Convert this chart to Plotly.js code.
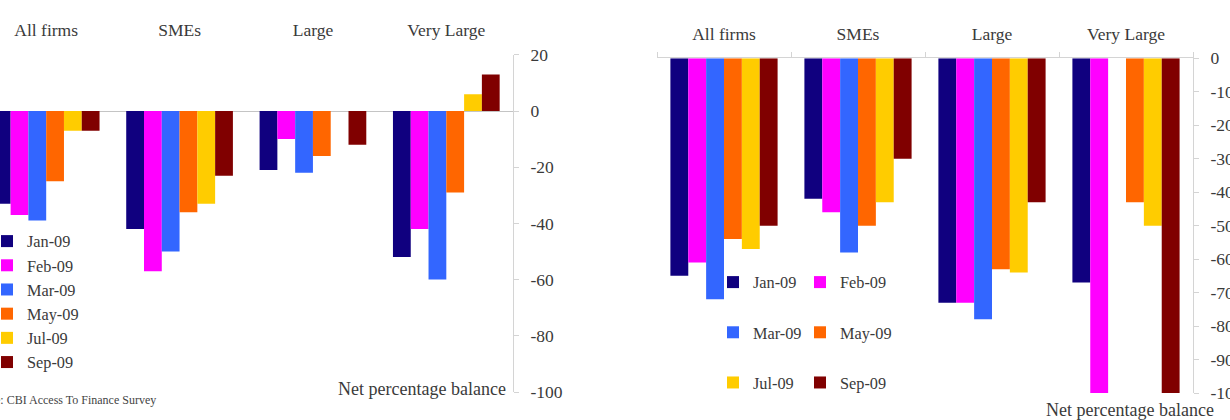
<!DOCTYPE html>
<html>
<head>
<meta charset="utf-8">
<script src="https://cdn.plot.ly/plotly-3.0.1.min.js"></script>
<style>
  html, body { margin: 0; padding: 0; background: #ffffff; }
  #chart { width: 1230px; height: 420px; }
</style>
</head>
<body>
<div id="chart"></div>
<script>
// Firm-size groups shown along the top of both panels
const categories = ['All firms', 'SMEs', 'Large', 'Very Large'];
// Survey waves
const months = ['Jan-09', 'Feb-09', 'Mar-09', 'May-09', 'Jul-09', 'Sep-09'];

// Left panel: net percentage balance by wave (All firms, SMEs, Large, Very Large)
const leftJan = [-33, -42, -21, -52];
const leftFeb = [-37, -57, -10, -42];
const leftMar = [-39, -50, -22, -60];
const leftMay = [-25, -36, -16, -29];
const leftJul = [-7, -33, 0, 6];
const leftSep = [-7, -23, -12, 13];

// Right panel: net percentage balance by wave (All firms, SMEs, Large, Very Large)
const rightJan = [-65, -42, -73, -67];
const rightFeb = [-61, -46, -73, -100];
const rightMar = [-72, -58, -78, null];
const rightMay = [-54, -50, -63, -43];
const rightJul = [-57, -43, -64, -50];
const rightSep = [-50, -30, -43, -100];

// Value-axis tick labels (plain hyphen minus)
const leftTicks = [20, 0, -20, -40, -60, -80, -100];
const leftTickText = ['20', '0', '-20', '-40', '-60', '-80', '-100'];
const rightTicks = [0, -10, -20, -30, -40, -50, -60, -70, -80, -90, -100];
const rightTickText = ['0', '-10', '-20', '-30', '-40', '-50', '-60', '-70', '-80', '-90', '-100'];

const colors = ['#10007f', '#ff00ff', '#3366ff', '#ff6600', '#ffcc00', '#800000'];

const leftSeries = [leftJan, leftFeb, leftMar, leftMay, leftJul, leftSep];
const rightSeries = [rightJan, rightFeb, rightMar, rightMay, rightJul, rightSep];

const W = 1230, H = 420;
const px = v => v / W;          // horizontal pixel -> paper
const py = v => 1 - v / H;      // vertical pixel -> paper

const serif = '"Liberation Serif", "Times New Roman", Times, serif';
const textColor = '#3a3a3a';
const axisGrey = '#d4d4d4';

const traces = [];
months.forEach((m, i) => {
  traces.push({
    type: 'bar', name: m, x: categories, y: leftSeries[i],
    xaxis: 'x', yaxis: 'y',
    marker: { color: colors[i], line: { width: 0 } },
    legend: 'legend', hoverinfo: 'x+y+name'
  });
});
months.forEach((m, i) => {
  traces.push({
    type: 'bar', name: m, x: categories, y: rightSeries[i],
    xaxis: 'x2', yaxis: 'y2',
    marker: { color: colors[i], line: { width: 0 } },
    legend: i % 2 === 0 ? 'legend2' : 'legend3',
    legendgroup: 'r' + i, hoverinfo: 'x+y+name'
  });
});

const leftX = [0, 513];
const rightX = [657, 1193];
const leftRange = [-0.5 + 20.5 / 133.4, 3.5];
const legendFont = { family: serif, size: 16.3, color: textColor };

const layout = {
  width: W, height: H,
  margin: { l: 0, r: 0, t: 0, b: 0, autoexpand: false },
  paper_bgcolor: '#ffffff', plot_bgcolor: 'rgba(0,0,0,0)',
  font: { family: serif, size: 17.5, color: textColor },
  barmode: 'group', bargap: 0.2, bargroupgap: 0,
  showlegend: true,
  xaxis: {
    domain: [px(leftX[0]), px(leftX[1])], anchor: 'y',
    type: 'category', categoryarray: categories, range: leftRange,
    side: 'top', ticks: '', showline: false, showgrid: false, zeroline: false,
    ticklabelstandoff: 14, tickfont: { family: serif, size: 17.5, color: textColor }
  },
  // small boundary ticks sitting on the zero line of the left panel
  xaxis3: {
    domain: [px(leftX[0]), px(leftX[1])], anchor: 'free', overlaying: 'x',
    position: py(111), side: 'bottom', type: 'linear', range: leftRange,
    tickvals: [0.5, 1.5, 2.5], ticks: 'outside', ticklen: 5, tickcolor: axisGrey,
    showticklabels: false, showline: false, showgrid: false, zeroline: false
  },
  yaxis: {
    domain: [py(392), py(54.8)], anchor: 'x', side: 'right',
    range: [-100, 20], tickvals: leftTicks, ticktext: leftTickText,
    ticks: 'outside', ticklen: 5, tickcolor: axisGrey,
    showline: true, linecolor: axisGrey, linewidth: 1,
    showgrid: false, zeroline: true, zerolinecolor: '#c4c4c4', zerolinewidth: 1,
    ticklabelstandoff: 8, tickfont: { family: serif, size: 17.5, color: textColor }
  },
  xaxis2: {
    domain: [px(rightX[0]), px(rightX[1])], anchor: 'y2',
    type: 'category', categoryarray: categories, range: [-0.5, 3.5],
    side: 'top', tickson: 'boundaries', ticks: 'outside', ticklen: 5, tickcolor: axisGrey,
    showline: true, linecolor: axisGrey, linewidth: 1,
    showgrid: false, zeroline: false,
    ticklabelstandoff: 10, tickfont: { family: serif, size: 17.5, color: textColor }
  },
  yaxis2: {
    domain: [py(393), py(58.3)], anchor: 'x2', side: 'right',
    range: [-100, 0], tickvals: rightTicks, ticktext: rightTickText,
    ticks: 'outside', ticklen: 5, tickcolor: axisGrey,
    showline: true, linecolor: axisGrey, linewidth: 1,
    showgrid: false, zeroline: false,
    ticklabelstandoff: 8, tickfont: { family: serif, size: 17.5, color: textColor }
  },
  legend: {
    x: px(-13), y: py(224), xanchor: 'left', yanchor: 'top',
    orientation: 'v', bgcolor: 'rgba(0,0,0,0)', borderwidth: 0,
    font: legendFont, tracegroupgap: 0
  },
  legend2: {
    x: px(713), y: py(265), xanchor: 'left', yanchor: 'top',
    orientation: 'v', bgcolor: 'rgba(0,0,0,0)', borderwidth: 0,
    font: legendFont, tracegroupgap: 26
  },
  legend3: {
    x: px(800), y: py(265), xanchor: 'left', yanchor: 'top',
    orientation: 'v', bgcolor: 'rgba(0,0,0,0)', borderwidth: 0,
    font: legendFont, tracegroupgap: 26
  },
  annotations: [
    { text: 'Net percentage balance', xref: 'paper', yref: 'paper',
      x: px(422), y: py(389), xanchor: 'center', yanchor: 'middle', showarrow: false,
      font: { family: serif, size: 18, color: textColor } },
    { text: 'Net percentage balance', xref: 'paper', yref: 'paper',
      x: px(1130), y: py(410), xanchor: 'center', yanchor: 'middle', showarrow: false,
      font: { family: serif, size: 18, color: textColor } },
    { text: 'Source: CBI Access To Finance Survey', xref: 'paper', yref: 'paper',
      x: px(158), y: py(400), xanchor: 'right', yanchor: 'middle', showarrow: false,
      font: { family: serif, size: 12, color: '#444444' } },
    { text: 'Source: CBI Access To Finance Survey', xref: 'paper', yref: 'paper',
      x: px(651), y: py(415), xanchor: 'left', yanchor: 'top', showarrow: false,
      font: { family: serif, size: 12, color: '#444444' } }
  ]
};

Plotly.newPlot('chart', traces, layout, { displayModeBar: false, staticPlot: true });
</script>
</body>
</html>
